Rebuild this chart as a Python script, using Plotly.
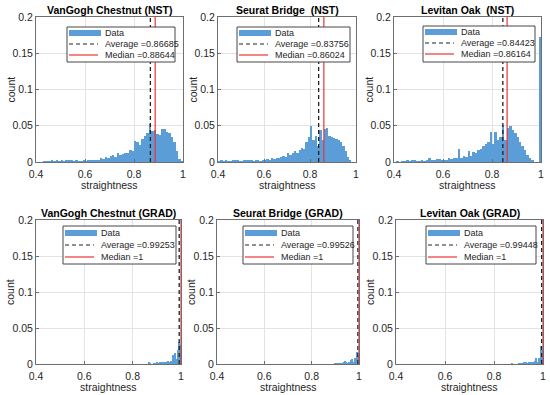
import numpy as np
import plotly.graph_objects as go

W, H = 550, 395

# ---------------- data ----------------
titles = ["VanGogh Chestnut (NST)", "Seurat Bridge\u00a0 (NST)", "Levitan Oak\u00a0 (NST)",
          "VanGogh Chestnut (GRAD)", "Seurat Bridge (GRAD)", "Levitan Oak (GRAD)"]
x_label = "straightness"
y_label = "count"

nst_bin_left = np.round(np.arange(0.40, 1.00, 0.01), 3)   # bin width 0.01
grad_bin_left = np.round(np.arange(0.85, 1.00, 0.005), 3)  # bin width 0.005

vangogh_nst = [0, 0, 0, 0.0005, 0.001, 0.001, 0.002, 0.001, 0.002, 0.001,
               0.002, 0.001, 0.002, 0.003, 0.002, 0.001, 0.002, 0.001, 0.001, 0.002,
               0.001, 0.002, 0.002, 0.003, 0.002, 0.003, 0.005, 0.004, 0.007, 0.006,
               0.008, 0.010, 0.007, 0.012, 0.009, 0.011, 0.013, 0.012, 0.016, 0.015,
               0.029, 0.027, 0.024, 0.032, 0.036, 0.040, 0.053, 0.043, 0.044, 0.038,
               0.037, 0.045, 0.046, 0.042, 0.040, 0.035, 0.028, 0.015, 0.004, 0.0005]
seurat_nst = [0.001, 0.002, 0.001, 0.002, 0.001, 0.001, 0.002, 0.003, 0.002, 0.001,
              0.001, 0.002, 0.003, 0.002, 0.002, 0.001, 0.002, 0.002, 0.001, 0.002,
              0.003, 0.004, 0.003, 0.005, 0.004, 0.006, 0.005, 0.007, 0.008, 0.007,
              0.012, 0.010, 0.013, 0.015, 0.012, 0.017, 0.020, 0.018, 0.027, 0.035,
              0.049, 0.030, 0.036, 0.022, 0.044, 0.030, 0.045, 0.047, 0.036, 0.034,
              0.033, 0.032, 0.030, 0.028, 0.022, 0.015, 0.007, 0.002, 0, 0]
levitan_nst = [0, 0.001, 0, 0.001, 0.001, 0.002, 0.001, 0.003, 0.003, 0.001,
               0.001, 0.002, 0.001, 0.002, 0.005, 0.002, 0.002, 0.004, 0.004, 0.003,
               0.002, 0.003, 0.005, 0.004, 0.006, 0.005, 0.018, 0.006, 0.008, 0.007,
               0.015, 0.008, 0.014, 0.012, 0.016, 0.018, 0.022, 0.025, 0.028, 0.042,
               0.025, 0.041, 0.030, 0.035, 0.051, 0.030, 0.047, 0.049, 0.044, 0.040,
               0.035, 0.028, 0.022, 0.016, 0.010, 0.006, 0.002, 0, 0, 0.172]

vangogh_grad = [0, 0, 0, 0.0015, 0.001, 0, 0, 0.0005, 0, 0.001,
                0.0015, 0.001, 0.0015, 0.001, 0.002, 0.002, 0.003, 0.001, 0.002, 0.004,
                0.003, 0.004, 0.003, 0.013, 0.004, 0.015, 0.007, 0.020, 0.030, 0.027]
seurat_grad = [0, 0, 0, 0, 0, 0, 0, 0, 0, 0.0005,
               0.0005, 0, 0.0005, 0.001, 0.001, 0.0005, 0.001, 0.002, 0.004, 0.002,
               0.001, 0.002, 0.003, 0.006, 0.007, 0.003, 0.008, 0.009, 0.016, 0.012]
levitan_grad = [0, 0, 0, 0, 0.0005, 0, 0, 0, 0, 0,
                0.001, 0.0005, 0.001, 0.001, 0.002, 0.0005, 0.0015, 0.001, 0.002, 0.0015,
                0.003, 0.002, 0.003, 0.004, 0.008, 0.003, 0.009, 0.007, 0.025, 0.020]

averages = [0.86685, 0.83756, 0.84423, 0.99253, 0.99526, 0.99448]
medians = [0.88644, 0.86024, 0.86164, 1, 1, 1]
avg_text = ["0.86685", "0.83756", "0.84423", "0.99253", "0.99526", "0.99448"]
med_text = ["0.88644", "0.86024", "0.86164", "1", "1", "1"]

x_ticks = [0.4, 0.6, 0.8, 1.0]
x_ticktext = ["0.4", "0.6", "0.8", "1"]
y_ticks = [0, 0.05, 0.1, 0.15, 0.2]
y_ticktext = ["0", "0.05", "0.1", "0.15", "0.2"]

series = [vangogh_nst, seurat_nst, levitan_nst, vangogh_grad, seurat_grad, levitan_grad]
bins = [nst_bin_left] * 3 + [grad_bin_left] * 3
widths = [0.01] * 3 + [0.005] * 3

# ---------------- layout (pixels) ----------------
panels = [(36, 183, 17, 162), (218, 356, 17, 162), (394, 541, 17, 162),
          (36, 181, 220, 364), (217, 359, 220, 364), (396, 543, 220, 364)]
legend_boxes = [(67, 175, 27, 62), (237, 350, 27, 62), (423, 535, 26, 62),
                (63, 176, 226, 264), (243, 353, 226, 264), (426, 536, 226, 264)]

FONT = "Liberation Sans, Arial, Helvetica, sans-serif"
TXT = "#262626"
BAR = "rgb(91,157,214)"
RED = "rgb(238,50,50)"
GRID = "#e3e3e3"
AXL = "rgb(110,110,110)"

px = lambda v: v / W
py = lambda v: 1 - v / H

fig = go.Figure()
layout = dict(width=W, height=H, margin=dict(l=0, r=0, t=0, b=0, autoexpand=False),
              paper_bgcolor="white", plot_bgcolor="white", showlegend=False,
              font=dict(family=FONT, color=TXT), bargap=0)
shapes, annotations = [], []

for i in range(6):
    n = i + 1
    sfx = "" if n == 1 else str(n)
    x0, x1, y0, y1 = panels[i]
    xa, ya = "x" + sfx, "y" + sfx
    left = np.array(bins[i])
    fig.add_trace(go.Bar(x=left + widths[i] / 2, y=series[i], width=widths[i],
                         marker=dict(color=BAR, line=dict(width=0)),
                         name="Data", xaxis=xa, yaxis=ya))
    common = dict(showline=True, linecolor=AXL, linewidth=1, mirror=True,
                  ticks="inside", ticklen=3, tickcolor=AXL, showgrid=True,
                  gridcolor=GRID, gridwidth=1, zeroline=False, automargin=False,
                  tickfont=dict(size=10.5, color=TXT, family=FONT))
    layout["xaxis" + sfx] = dict(domain=[px(x0), px(x1)], anchor=ya, range=[0.4, 1.0],
                                 tickvals=x_ticks, ticktext=x_ticktext,
                                 ticklabelstandoff=2, **common)
    layout["yaxis" + sfx] = dict(domain=[py(y1), py(y0)], anchor=xa, range=[0, 0.2],
                                 tickvals=y_ticks, ticktext=y_ticktext, **common)
    # vertical lines: average (dashed) and median (red)
    shapes.append(dict(type="line", xref=xa, yref=ya + " domain", x0=averages[i], x1=averages[i],
                       y0=0, y1=1, line=dict(color="#222222", width=1.3, dash="4px,3px"),
                       layer="above"))
    shapes.append(dict(type="line", xref=xa, yref=ya + " domain", x0=medians[i], x1=medians[i],
                       y0=0, y1=1, line=dict(color=RED, width=1.2), layer="above"))
    # title
    annotations.append(dict(text="<b>" + titles[i] + "</b>", xref="paper", yref="paper",
                            x=px((x0 + x1) / 2), y=py(y0 - 7), xanchor="center",
                            yanchor="middle", showarrow=False,
                            font=dict(size=10.5, color="black", family=FONT)))
    # axis titles
    annotations.append(dict(text=x_label, xref="paper", yref="paper",
                            x=px((x0 + x1) / 2), y=py(y1 + 23), xanchor="center",
                            yanchor="middle", showarrow=False,
                            font=dict(size=10.5, color=TXT, family=FONT)))
    annotations.append(dict(text=y_label, xref="paper", yref="paper", textangle=-90,
                            x=px(x0 - 26), y=py((y0 + y1) / 2), xanchor="center",
                            yanchor="middle", showarrow=False,
                            font=dict(size=10.5, color=TXT, family=FONT)))
    # legend box
    lx0, lx1, ly0, ly1 = legend_boxes[i]
    shapes.append(dict(type="rect", xref="paper", yref="paper", x0=px(lx0), x1=px(lx1),
                       y0=py(ly1), y1=py(ly0), fillcolor="white",
                       line=dict(color="rgb(70,70,70)", width=1), layer="above"))
    rows = [ly0 + 6, ly0 + 17, ly0 + 28] if i < 3 else [ly0 + 7, ly0 + 19, ly0 + 31]
    shapes.append(dict(type="rect", xref="paper", yref="paper", x0=px(lx0 + 2), x1=px(lx0 + 34),
                       y0=py(rows[0] + 3), y1=py(rows[0] - 3), fillcolor=BAR,
                       line=dict(width=0), layer="above"))
    shapes.append(dict(type="line", xref="paper", yref="paper", x0=px(lx0 + 2), x1=px(lx0 + 31),
                       y0=py(rows[1]), y1=py(rows[1]),
                       line=dict(color="#222222", width=1.2, dash="4px,3px"), layer="above"))
    shapes.append(dict(type="line", xref="paper", yref="paper", x0=px(lx0 + 2), x1=px(lx0 + 31),
                       y0=py(rows[2]), y1=py(rows[2]),
                       line=dict(color=RED, width=1.2), layer="above"))
    for r, t in zip(rows, ["Data", "Average =" + avg_text[i], "Median =" + med_text[i]]):
        annotations.append(dict(text=t, xref="paper", yref="paper", x=px(lx0 + 36), y=py(r),
                                xanchor="left", yanchor="middle", showarrow=False,
                                font=dict(size=9, color=TXT, family=FONT)))

layout["shapes"] = shapes
layout["annotations"] = annotations
fig.update_layout(**layout)
fig.write_html("out.html", config={"displayModeBar": False},
               post_script="document.body.style.margin='0';document.body.style.padding='0';")
